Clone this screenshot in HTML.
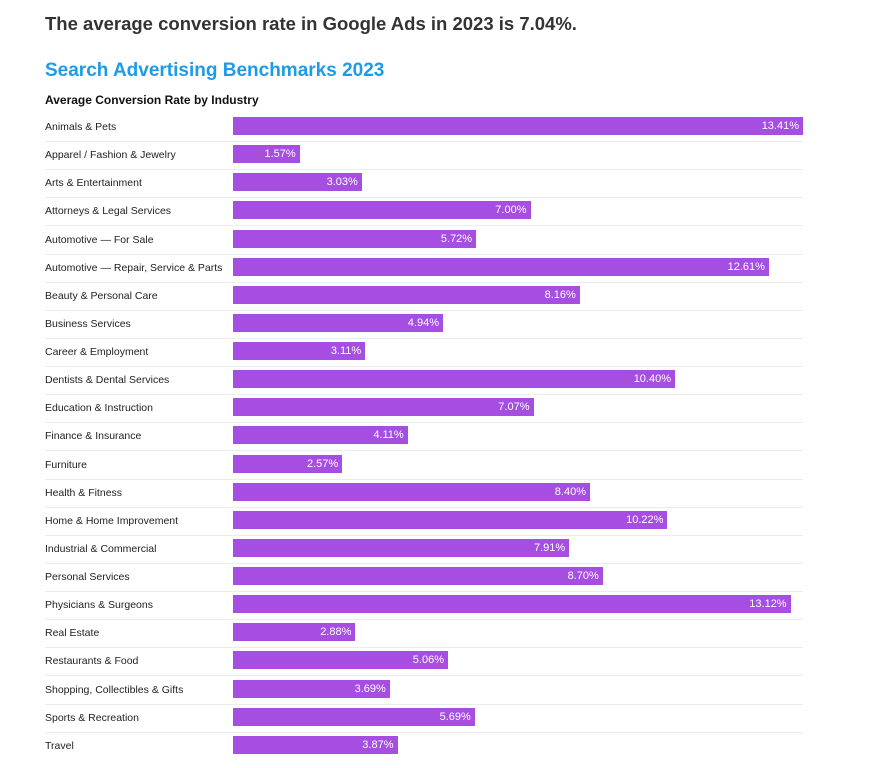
<!DOCTYPE html>
<html><head><meta charset="utf-8"><style>
body{margin:0;width:881px;height:768px;background:#fff;font-family:"Liberation Sans",sans-serif;position:relative;overflow:hidden}
.h1{position:absolute;left:45px;top:13px;font-size:18.5px;font-weight:bold;color:#333;}
.h2{position:absolute;left:45px;top:60px;font-size:19px;font-weight:bold;color:#1d9be6;}
.h3{position:absolute;left:45px;top:93px;font-size:12px;font-weight:bold;color:#111;}
.rows{position:absolute;left:0;top:117px;width:881px}
.r{position:relative;height:28.14px}
.l{position:absolute;left:45px;top:1px;line-height:18px;font-size:10.5px;color:#222}
.b{position:absolute;left:233px;top:0;height:18px;background:#a64ee2;color:#fff;font-size:11px;line-height:18px;text-align:right;box-sizing:border-box;padding-right:4px}
.s{position:absolute;left:45px;width:758px;top:24px;border-top:1px solid #ececec}
</style></head><body>
<div class="h1">The average conversion rate in Google Ads in 2023 is 7.04%.</div>
<div class="h2">Search Advertising Benchmarks 2023</div>
<div class="h3">Average Conversion Rate by Industry</div>
<div class="rows">
<div class="r"><div class="l">Animals &amp; Pets</div><div class="b" style="width:570px">13.41%</div><div class="s"></div></div>
<div class="r"><div class="l">Apparel / Fashion &amp; Jewelry</div><div class="b" style="width:66.7px">1.57%</div><div class="s"></div></div>
<div class="r"><div class="l">Arts &amp; Entertainment</div><div class="b" style="width:128.8px">3.03%</div><div class="s"></div></div>
<div class="r"><div class="l">Attorneys &amp; Legal Services</div><div class="b" style="width:297.5px">7.00%</div><div class="s"></div></div>
<div class="r"><div class="l">Automotive — For Sale</div><div class="b" style="width:243.1px">5.72%</div><div class="s"></div></div>
<div class="r"><div class="l">Automotive — Repair, Service &amp; Parts</div><div class="b" style="width:535.9px">12.61%</div><div class="s"></div></div>
<div class="r"><div class="l">Beauty &amp; Personal Care</div><div class="b" style="width:346.8px">8.16%</div><div class="s"></div></div>
<div class="r"><div class="l">Business Services</div><div class="b" style="width:210px">4.94%</div><div class="s"></div></div>
<div class="r"><div class="l">Career &amp; Employment</div><div class="b" style="width:132.2px">3.11%</div><div class="s"></div></div>
<div class="r"><div class="l">Dentists &amp; Dental Services</div><div class="b" style="width:442px">10.40%</div><div class="s"></div></div>
<div class="r"><div class="l">Education &amp; Instruction</div><div class="b" style="width:300.5px">7.07%</div><div class="s"></div></div>
<div class="r"><div class="l">Finance &amp; Insurance</div><div class="b" style="width:174.7px">4.11%</div><div class="s"></div></div>
<div class="r"><div class="l">Furniture</div><div class="b" style="width:109.2px">2.57%</div><div class="s"></div></div>
<div class="r"><div class="l">Health &amp; Fitness</div><div class="b" style="width:357px">8.40%</div><div class="s"></div></div>
<div class="r"><div class="l">Home &amp; Home Improvement</div><div class="b" style="width:434.4px">10.22%</div><div class="s"></div></div>
<div class="r"><div class="l">Industrial &amp; Commercial</div><div class="b" style="width:336.2px">7.91%</div><div class="s"></div></div>
<div class="r"><div class="l">Personal Services</div><div class="b" style="width:369.8px">8.70%</div><div class="s"></div></div>
<div class="r"><div class="l">Physicians &amp; Surgeons</div><div class="b" style="width:557.6px">13.12%</div><div class="s"></div></div>
<div class="r"><div class="l">Real Estate</div><div class="b" style="width:122.4px">2.88%</div><div class="s"></div></div>
<div class="r"><div class="l">Restaurants &amp; Food</div><div class="b" style="width:215px">5.06%</div><div class="s"></div></div>
<div class="r"><div class="l">Shopping, Collectibles &amp; Gifts</div><div class="b" style="width:156.8px">3.69%</div><div class="s"></div></div>
<div class="r"><div class="l">Sports &amp; Recreation</div><div class="b" style="width:241.8px">5.69%</div><div class="s"></div></div>
<div class="r"><div class="l">Travel</div><div class="b" style="width:164.5px">3.87%</div></div>
</div>
</body></html>
